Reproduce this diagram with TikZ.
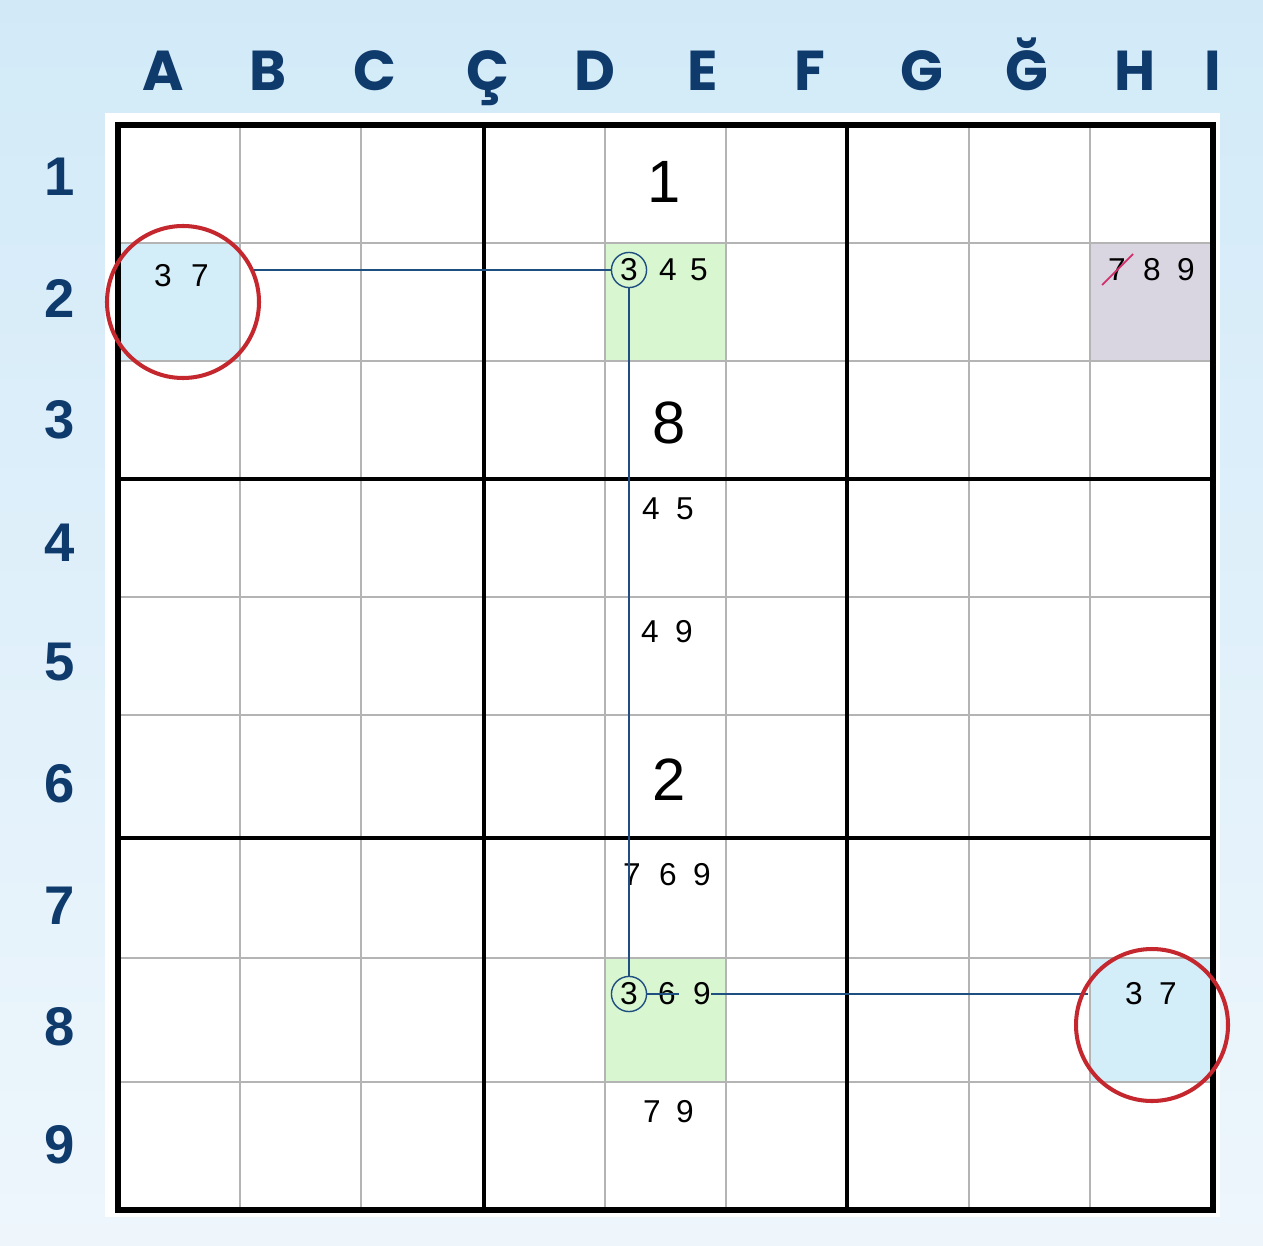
\documentclass[tikz,border=0pt]{standalone}
\usepackage{fontspec}
\setmainfont{Liberation Sans}
\newfontfamily\labelfont{Poppins}
\usepackage{xcolor}
\usetikzlibrary{positioning}

\definecolor{navy}{HTML}{0E3A6C}
\definecolor{linkblue}{HTML}{1F4E80}
\definecolor{bgtop}{HTML}{D2EAF8}
\definecolor{bgbot}{HTML}{EEF6FC}
\definecolor{cellblue}{HTML}{D3EDF9}
\definecolor{cellgreen}{HTML}{D8F6CF}
\definecolor{celllav}{HTML}{D9D5E1}
\definecolor{ringred}{HTML}{C4282E}
\definecolor{strike}{HTML}{D3306B}
\definecolor{minorgray}{HTML}{B4B4B4}

\begin{document}
\begin{tikzpicture}[
  x=0.02cm, y=-0.02cm,
  colname/.style={font=\labelfont\bfseries\fontsize{32}{32}\selectfont, text=navy, anchor=base, inner sep=0pt},
  rowname/.style={font=\bfseries\fontsize{31}{31}\selectfont, text=navy, inner sep=0pt},
  cand/.style={font=\fontsize{18}{18}\selectfont, inner sep=0pt},
  given/.style={font=\fontsize{34}{34}\selectfont, inner sep=0pt},
  ring/.style={circle, draw=linkblue, line width=0.8pt, minimum size=20pt, inner sep=0pt, font=\fontsize{18}{18}\selectfont},
  link/.style={draw=linkblue, line width=1.1pt},
  pick/.style={draw=ringred, line width=2.3pt}
]

% background and board
\shade[top color=bgtop, bottom color=bgbot] (0,0) rectangle (1263,1246);
\fill[white] (105,113) rectangle (1220,1217);

% highlighted cells
\fill[cellblue] (118,243) rectangle (240,361);
\fill[cellgreen] (605,243) rectangle (726,361);
\fill[celllav] (1090,243) rectangle (1213,361);
\fill[cellgreen] (605,958) rectangle (726,1082);
\fill[cellblue] (1090,958) rectangle (1213,1082);

% grid
\foreach \x in {240,361,605,726,969,1090}
  \draw[minorgray, line width=0.85pt] (\x,125) -- (\x,1210);
\foreach \y in {243,361,597,715,958,1082}
  \draw[minorgray, line width=0.85pt] (118,\y) -- (1213,\y);
\foreach \x in {484,847}
  \draw[black, line width=2.3pt] (\x,125) -- (\x,1210);
\foreach \y in {479,838}
  \draw[black, line width=2.3pt] (118,\y) -- (1213,\y);
\draw[black, line width=3pt] (118,125) rectangle (1213,1210);

% column and row labels
\foreach \l/\x in {A/163, B/268, C/375, Ç/488, D/595, E/703, F/810, G/922, Ğ/1027, H/1135, I/1213}
  \node[colname] at (\x,91) {\l};
\foreach \r/\y in {1/177, 2/298, 3/420, 4/543, 5/662, 6/784, 7/906, 8/1027, 9/1145}
  \node[rowname] at (60,\y) {\r};

% given digits
\node[given] (e1) at (664,182) {1};
\node[given] (e3) at (669,423) {8};
\node[given] (e6) at (669,780) {2};

% candidates
\node[cand] (a2three) at (163,276) {3};
\node[cand] (a2seven) at (200,276) {7};

\node[ring] (e2c) at (629,270) {3};
\node[cand] (e2four) at (668,270) {4};
\node[cand] (e2five) at (699,270) {5};

\node[cand] (i2seven) at (1117,270) {7};
\node[cand] (i2eight) at (1152,270) {8};
\node[cand] (i2nine) at (1186,270) {9};
\draw[strike, line width=1pt] (1102,285) -- (1133,254);

\node[cand] (e4four) at (651,509) {4};
\node[cand] (e4five) at (685,509) {5};

\node[cand] (e5four) at (650,632) {4};
\node[cand] (e5nine) at (684,632) {9};

\node[cand] (e7seven) at (632,875) {7};
\node[cand] (e7six) at (668,875) {6};
\node[cand] (e7nine) at (702,875) {9};

\node[ring] (e8c) at (629,994) {3};
\node[cand] (e8six) at (667,994) {6};
\node[cand] (e8nine) at (702,994) {9};

\node[cand] (e9seven) at (652,1112) {7};
\node[cand] (e9nine) at (685,1112) {9};

\node[cand] (i8three) at (1134,994) {3};
\node[cand] (i8seven) at (1168,994) {7};

% links
\coordinate (a2end) at (253,270);
\coordinate (e8mid) at (679,994);
\coordinate (i8end) at (1088,994);
\draw[link] (a2end) -- (e2c);
\draw[link] (e2c) -- (e8c);
\draw[link] (e8c) -- (e8mid);
\draw[link] (e8nine.east) -- (i8end);

% circled pair
\draw[pick] (183,302) circle[radius=76];
\draw[pick] (1152,1025) circle[radius=76];

\end{tikzpicture}
\end{document}
